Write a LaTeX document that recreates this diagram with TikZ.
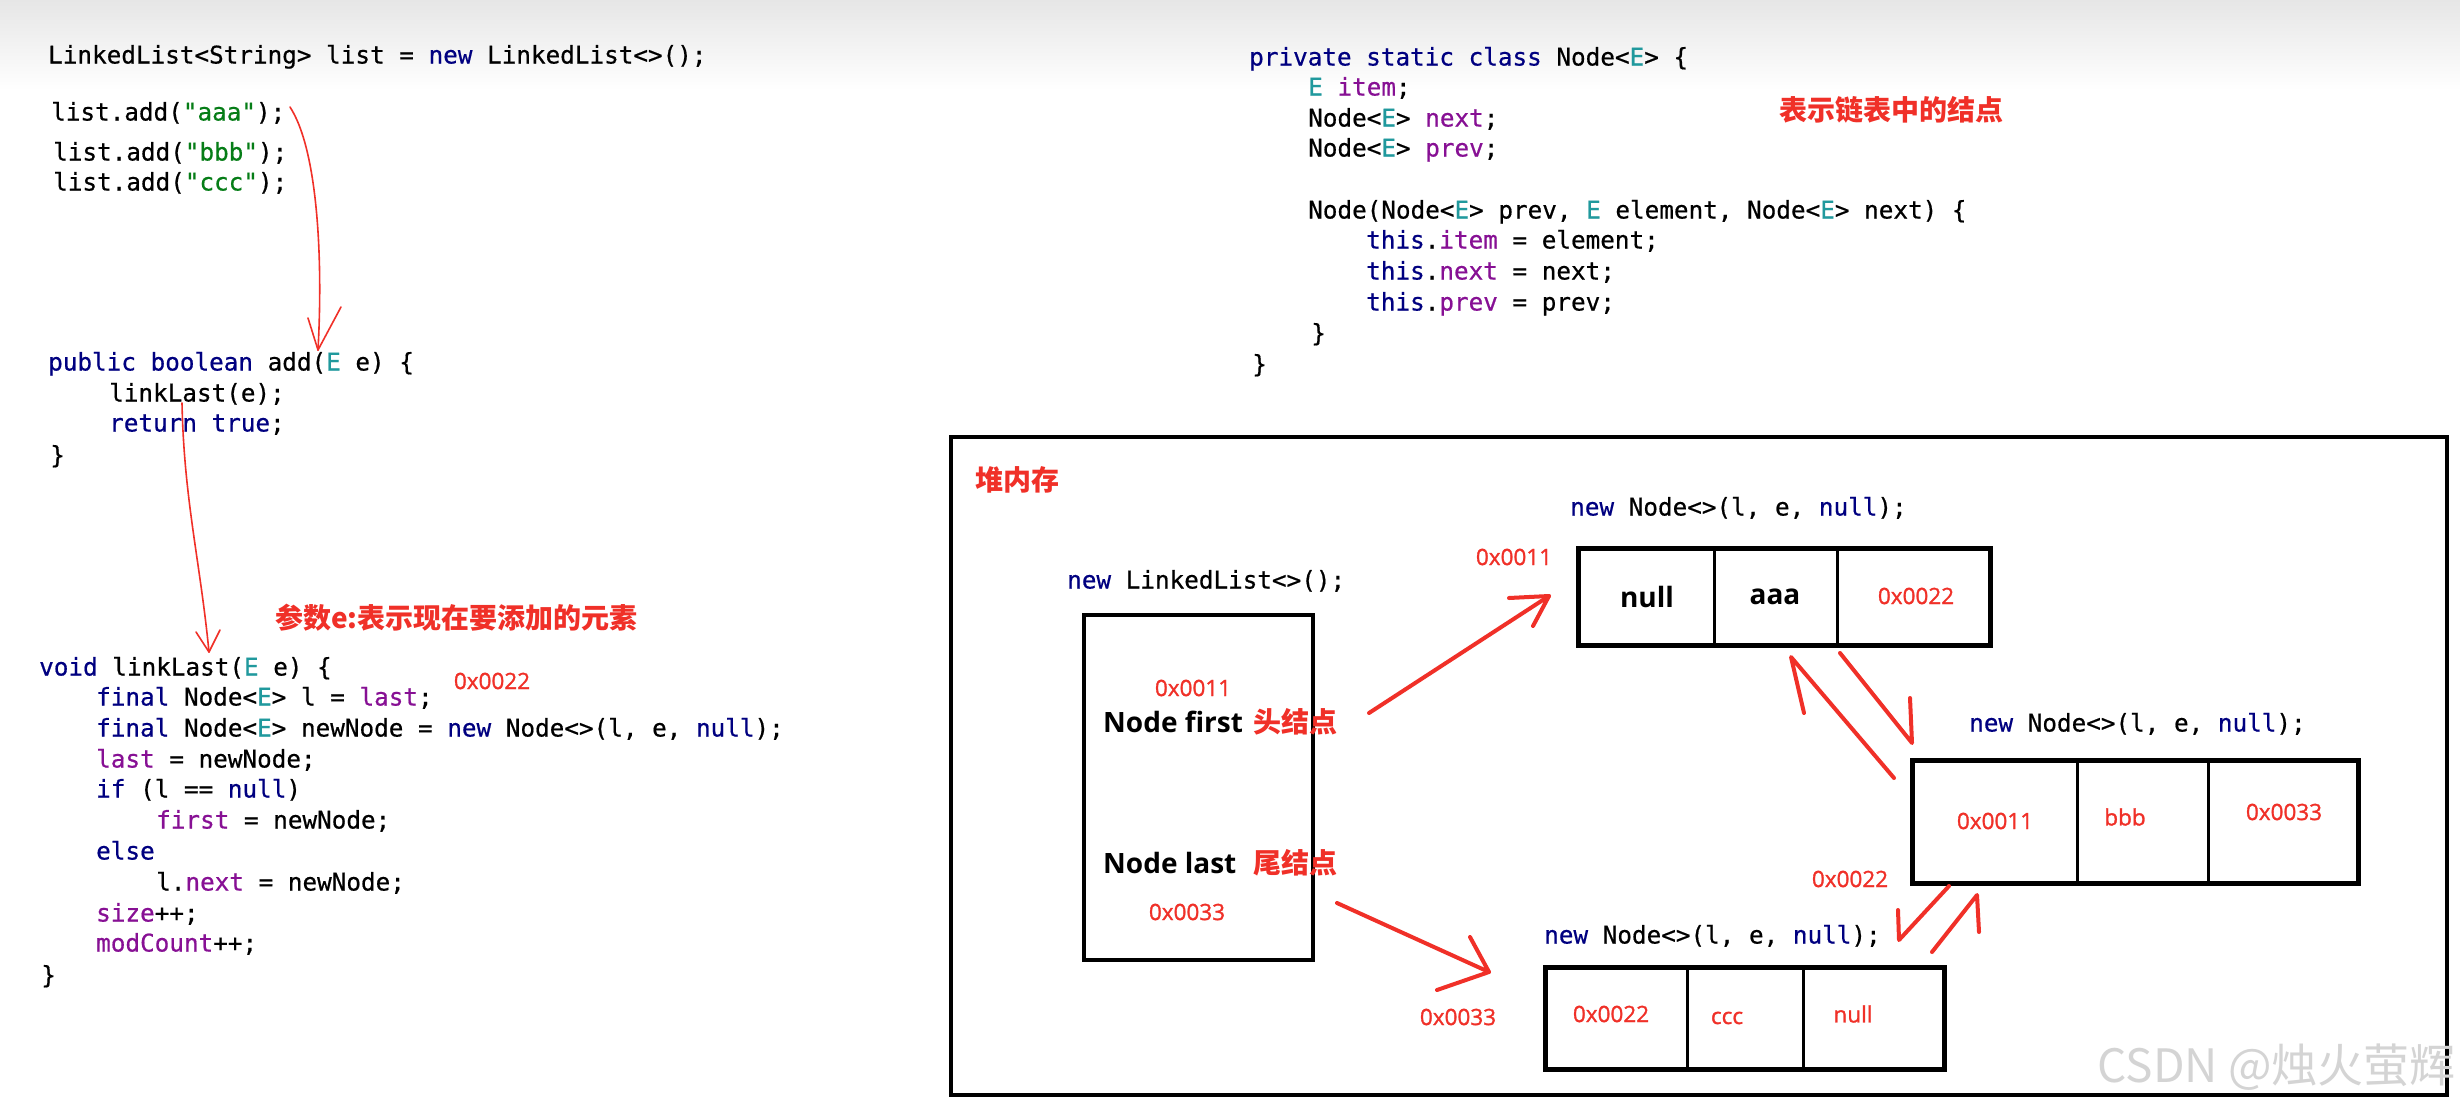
\documentclass[tikz,border=0pt]{standalone}
\usepackage{fontspec}
\usetikzlibrary{calc}
\newfontfamily\codefont{DejaVu Sans Mono}[FakeBold=0.6]
\newfontfamily\osans{Open Sans}
\newfontfamily\hexfont{Open Sans}[FakeBold=1.2]
\newfontfamily\cjk{Noto Sans CJK SC}
\definecolor{ckwc}{RGB}{0,0,128}
\definecolor{ctyc}{RGB}{32,153,157}
\definecolor{cfdc}{RGB}{135,16,148}
\definecolor{cstc}{RGB}{6,125,23}
\definecolor{annot}{RGB}{240,48,40}
\definecolor{wmark}{RGB}{212,212,212}
\definecolor{topgray}{RGB}{230,230,230}
\newcommand{\ckw}[1]{\textcolor{ckwc}{#1}}
\newcommand{\cty}[1]{\textcolor{ctyc}{#1}}
\newcommand{\cfd}[1]{\textcolor{cfdc}{#1}}
\newcommand{\cst}[1]{\textcolor{cstc}{#1}}
\begin{document}
\begin{tikzpicture}[x=1pt,y=-1pt,
  code/.style={anchor=west, inner sep=0pt, font=\codefont\fontsize{24.3}{29}\selectfont, text height=21pt, text depth=4pt},
  hex/.style={inner sep=0pt, text=annot, font=\hexfont\fontsize{22.5}{27}\selectfont},
  ann/.style={anchor=west, inner sep=0pt, text=annot, font=\cjk\bfseries\fontsize{28}{34}\selectfont},
  boldtxt/.style={inner sep=0pt, font=\osans\bfseries\fontsize{28}{34}\selectfont},
  pointer/.style={anchor=west, inner sep=0pt, font=\fontsize{28}{34}\selectfont},
  frame/.style={draw=black, line width=4pt, inner sep=0pt, anchor=north west},
  divider/.style={draw=black, line width=3pt},
  harrow/.style={draw=annot, line width=4pt, line cap=round, line join=round},
  thinarrow/.style={draw=annot, line width=1.6pt, line cap=round, line join=round}]
\useasboundingbox (0,0) rectangle (2460,1109);
\fill[white] (0,0) rectangle (2460,1109);
\shade[top color=topgray, bottom color=white] (0,0) rectangle (2460,90);

% ---------- left code ----------
\node[code] (c1) at (48,55) {LinkedList<String> list = \ckw{new} LinkedList<>();};
\node[code] (c2) at (51,112) {list.add(\cst{"aaa"});};
\node[code] (c3) at (53,152) {list.add(\cst{"bbb"});};
\node[code] (c4) at (53,182) {list.add(\cst{"ccc"});};

\node[code] (p1) at (48,362) {\ckw{public boolean} add(\cty{E} e) \{};
\node[code] (p2) at (109,393) {linkLast(e);};
\node[code] (p3) at (109,423) {\ckw{return true};};
\node[code] (p4) at (50,455) {\}};

\node[code] (k1) at (39,667) {\ckw{void} linkLast(\cty{E} e) \{};
\node[code] (k2) at (96,697) {\ckw{final} Node<\cty{E}> l = \cfd{last};};
\node[code] (k3) at (96,728) {\ckw{final} Node<\cty{E}> newNode = \ckw{new} Node<>(l, e, \ckw{null});};
\node[code] (k4) at (96,759) {\cfd{last} = newNode;};
\node[code] (k5) at (96,789) {\ckw{if} (l == \ckw{null})};
\node[code] (k6) at (156,820) {\cfd{first} = newNode;};
\node[code] (k7) at (96,851) {\ckw{else}};
\node[code] (k8) at (156,882) {l.\cfd{next} = newNode;};
\node[code] (k9) at (96,913) {\cfd{size}++;};
\node[code] (k10) at (96,943) {\cfd{modCount}++;};
\node[code] (k11) at (41,975) {\}};

\node[ann] (annE) at (275,618) {参数e:表示现在要添加的元素};
\node[hex] (lastaddr) at (492,681) {0x0022};

% ---------- right code ----------
\node[code] (r1) at (1249,57) {\ckw{private static class} Node<\cty{E}> \{};
\node[code] (r2) at (1308,87) {\cty{E} \cfd{item};};
\node[code] (r3) at (1308,118) {Node<\cty{E}> \cfd{next};};
\node[code] (r4) at (1308,148) {Node<\cty{E}> \cfd{prev};};
\node[code] (r5) at (1308,210) {Node(Node<\cty{E}> prev, \cty{E} element, Node<\cty{E}> next) \{};
\node[code] (r6) at (1366,240) {\ckw{this}.\cfd{item} = element;};
\node[code] (r7) at (1366,271) {\ckw{this}.\cfd{next} = next;};
\node[code] (r8) at (1366,302) {\ckw{this}.\cfd{prev} = prev;};
\node[code] (r9) at (1311,333) {\}};
\node[code] (r10) at (1252,364) {\}};
\node[ann] (annNode) at (1779,110) {表示链表中的结点};

% ---------- heap ----------
\node[frame, minimum width=1496pt, minimum height=658pt] (heap) at (949,435) {};
\node[ann] (heapname) at (975,480) {堆内存};

\node[code] (lbl0) at (1067,580) {\ckw{new} LinkedList<>();};
\node[frame, minimum width=229pt, minimum height=345pt] (llbox) at (1082,613) {};
\node[hex] (fa) at (1193,688) {0x0011};
\node[pointer] (first) at (1103,722) {\makebox[150pt][l]{\osans\bfseries Node first}{\cjk\bfseries\color{annot}头结点}};
\node[pointer] (last) at (1103,863) {\makebox[150pt][l]{\osans\bfseries Node last}{\cjk\bfseries\color{annot}尾结点}};
\node[hex] (la) at (1187,912) {0x0033};

% node 1
\node[code] (lbl1) at (1570,507) {\ckw{new} Node<>(l, e, \ckw{null});};
\node[hex] (addr1) at (1514,557) {0x0011};
\node[frame, line width=4.5pt, minimum width=412pt, minimum height=97pt] (n1) at (1576,546) {};
\draw[divider] ($(n1.north west)+(138,0)$) -- ($(n1.south west)+(138,0)$);
\draw[divider] ($(n1.north west)+(261,0)$) -- ($(n1.south west)+(261,0)$);
\node[boldtxt] (t1a) at (1647,597) {null};
\node[boldtxt] (t1b) at (1775,597) {aaa};
\node[hex] (t1c) at (1916,596) {0x0022};

% node 2
\node[code] (lbl2) at (1969,723) {\ckw{new} Node<>(l, e, \ckw{null});};
\node[hex] (addr2) at (1850,879) {0x0022};
\node[frame, line width=4.5pt, minimum width=446pt, minimum height=123pt] (n2) at (1910,758) {};
\draw[divider] ($(n2.north west)+(167,0)$) -- ($(n2.south west)+(167,0)$);
\draw[divider] ($(n2.north west)+(298,0)$) -- ($(n2.south west)+(298,0)$);
\node[hex] (t2a) at (1995,821) {0x0011};
\node[hex] (t2b) at (2125,817) {bbb};
\node[hex] (t2c) at (2284,812) {0x0033};

% node 3
\node[code] (lbl3) at (1544,935) {\ckw{new} Node<>(l, e, \ckw{null});};
\node[hex] (addr3) at (1458,1017) {0x0033};
\node[frame, line width=4.5pt, minimum width=399pt, minimum height=102pt] (n3) at (1543,965) {};
\draw[divider] ($(n3.north west)+(144,0)$) -- ($(n3.south west)+(144,0)$);
\draw[divider] ($(n3.north west)+(260,0)$) -- ($(n3.south west)+(260,0)$);
\node[hex] (t3a) at (1611,1014) {0x0022};
\node[hex] (t3b) at (1727,1018) {ccc};
\node[hex] (t3c) at (1853,1014) {null};

% ---------- red arrows in heap ----------
\coordinate (aFs) at (1369,713);
\coordinate (aFt) at (1549,596);
\draw[harrow] (aFs) -- (aFt) -- ++(-16,30);
\draw[harrow] (aFt) -- ++(-40,2);

\coordinate (aLs) at (1337,903);
\coordinate (aLt) at (1489,972);
\draw[harrow] (aLs) -- (aLt) -- ++(-19,-35);
\draw[harrow] (aLt) -- ++(-52,18);

\coordinate (a21s) at (1894,778);
\coordinate (a21t) at (1791,657);
\draw[harrow] (a21s) -- (a21t) -- ++(13,56);

\coordinate (a12s) at (1840,653);
\coordinate (a12t) at (1912,743);
\draw[harrow] (a12s) -- (a12t) -- ++(-2,-45);

\coordinate (a23s) at (1949,886);
\coordinate (a23t) at (1899,940);
\draw[harrow] (a23s) -- (a23t) -- ++(-1,-30);

\coordinate (a32s) at (1932,952);
\coordinate (a32t) at (1977,895);
\draw[harrow] (a32s) -- (a32t) -- ++(2,37);

% ---------- thin hand-drawn arrows on the left ----------
\coordinate (g1s) at (290,107);
\coordinate (g1t) at (318,350);
\draw[thinarrow] (g1s) .. controls (318,150) and (323,260) .. (g1t);
\draw[thinarrow] (g1t) -- ++(-10,-32);
\draw[thinarrow] (g1t) -- ++(23,-43);

\coordinate (g2s) at (182,403);
\coordinate (g2t) at (209,652);
\draw[thinarrow] (g2s) .. controls (184,500) and (200,560) .. (g2t);
\draw[thinarrow] (g2t) -- ++(-13,-20);
\draw[thinarrow] (g2t) -- ++(11,-22);

% ---------- watermark ----------
\node[anchor=east, inner sep=0pt, text=wmark, font=\cjk\fontsize{46}{50}\selectfont] (wm) at (2456,1067) {CSDN @烛火萤辉};
\end{tikzpicture}
\end{document}
